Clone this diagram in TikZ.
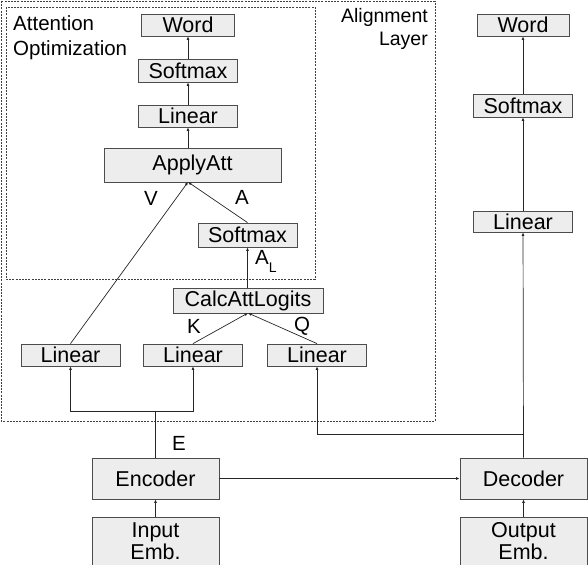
\documentclass[tikz,border=0pt]{standalone}
\usepackage{fontspec}
\setmainfont{Liberation Sans}
\usetikzlibrary{arrows.meta}
\begin{document}
\begin{tikzpicture}[x=1pt,y=-1pt,
  blk/.style={draw=black!70, fill=black!7, line width=0.8pt, inner sep=0pt,
    font=\fontsize{21.5}{22}\selectfont, align=center},
  conn/.style={line width=0.7pt, draw=black!85, -{Latex[length=3.5pt,width=3pt]}},
  plain/.style={line width=0.7pt, draw=black!85},
  lbl/.style={font=\fontsize{20.5}{24}\selectfont, inner sep=0pt},
  dbox/.style={draw=black!75, line width=0.75pt, dash pattern=on 2pt off 1.2pt}]
\useasboundingbox (0,0) rectangle (588,564);
\clip (0,0) rectangle (588,564);
% dashed frames
\draw[dbox] (1,1) rectangle (435,421);
\draw[dbox] (6,7) rectangle (315,279);
\node[lbl, anchor=north west, align=left, font=\fontsize{20.5}{25}\selectfont] (attopt) at (13,15) {Attention\\Optimization};
\node[lbl, anchor=north east, align=right, font=\fontsize{19.5}{23}\selectfont] (alay) at (428,8) {Alignment\\Layer};
% left stack
\node[blk, minimum width=93, minimum height=22] (wordL) at (188,25) {Word};
\node[blk, minimum width=99, minimum height=23] (smaxT) at (188,70.5) {Softmax};
\node[blk, minimum width=99, minimum height=22] (linT) at (188,116) {Linear};
\node[blk, minimum width=177, minimum height=34] (apply) at (192.5,165) {ApplyAtt};
\node[blk, minimum width=99, minimum height=24] (smaxM) at (247.5,235) {Softmax};
\node[blk, minimum width=150, minimum height=25] (calc) at (248,300.5) {CalcAttLogits};
\node[blk, minimum width=99, minimum height=22] (lin1) at (70.5,355) {Linear};
\node[blk, minimum width=99, minimum height=22] (lin2) at (193,355) {Linear};
\node[blk, minimum width=99, minimum height=22] (lin3) at (317,355) {Linear};
\node[blk, minimum width=127, minimum height=41] (enc) at (155.5,478.5) {Encoder};
\node[blk, minimum width=127, minimum height=41] (dec) at (523.5,478.5) {Decoder};
\node[blk, minimum width=127, minimum height=49, font=\fontsize{21.5}{22}\selectfont] (inemb) at (155.5,541.5) {Input\\Emb.};
\node[blk, minimum width=127, minimum height=49, font=\fontsize{21.5}{22}\selectfont] (outemb) at (523.5,541.5) {Output\\Emb.};
% right stack
\node[blk, minimum width=92, minimum height=22] (wordR) at (523,25) {Word};
\node[blk, minimum width=99, minimum height=23] (smaxR) at (523,105.5) {Softmax};
\node[blk, minimum width=99, minimum height=21] (linR) at (523,221.5) {Linear};
% helper coordinates
\coordinate (applyin) at (188,182);
\coordinate (calcin) at (248,313);
\coordinate (ej) at (155.5,411);
\coordinate (qj) at (523.5,434);
% connectors
\draw[conn] (linT) -- (smaxT);
\draw[conn] (smaxT) -- (wordL);
\draw[conn] (apply.north -| linT) -- (linT);
\draw[conn] (lin1.north) -- (applyin);
\draw[conn] (smaxM.north) -- (applyin);
\draw[conn] (calc.north -| smaxM) -- (smaxM);
\draw[conn] (lin2.north) -- (calcin);
\draw[conn] (lin3.north) -- (calcin);
\draw[plain] (enc.north) -- (ej);
\draw[conn] (ej) -| (lin1.south);
\draw[conn] (ej) -| (lin2.south);
\draw[conn] (dec.north) -- (linR);
\draw[conn] (qj) -| (lin3.south);
\draw[conn] (linR) -- (smaxR);
\draw[conn] (smaxR) -- (wordR);
\draw[conn] (enc.east) -- (dec.west);
\draw[conn] (inemb) -- (enc);
\draw[conn] (outemb) -- (dec);
% labels
\node[lbl] (lv) at (151,198) {V};
\node[lbl] (la) at (242,197) {A};
\node[lbl, anchor=west] (lal) at (255,261) {A\raisebox{-8pt}{\fontsize{14}{14}\selectfont L}};
\node[lbl] (lk) at (194,326) {K};
\node[lbl] (lq) at (302,326) {Q};
\node[lbl] (le) at (179,443) {E};
\end{tikzpicture}
\end{document}
